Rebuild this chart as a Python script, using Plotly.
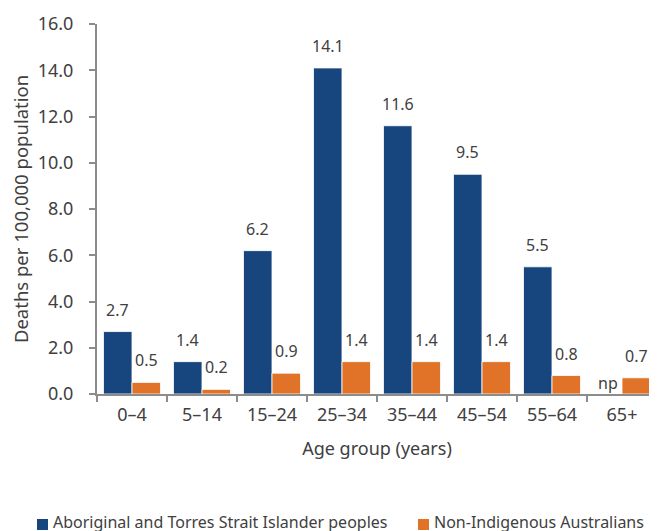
import plotly.graph_objects as go

categories = ["0–4", "5–14", "15–24", "25–34", "35–44", "45–54", "55–64", "65+"]
indigenous = [2.7, 1.4, 6.2, 14.1, 11.6, 9.5, 5.5, None]
indigenous_labels = ["2.7", "1.4", "6.2", "14.1", "11.6", "9.5", "5.5", "np"]
non_indigenous = [0.5, 0.2, 0.9, 1.4, 1.4, 1.4, 0.8, 0.7]
non_indigenous_labels = ["0.5", "0.2", "0.9", "1.4", "1.4", "1.4", "0.8", "0.7"]
y_ticks = [0, 2, 4, 6, 8, 10, 12, 14, 16]
series_names = ["Aboriginal and Torres Strait Islander peoples", "Non-Indigenous Australians"]

BLUE = "#17467F"
ORANGE = "#E07328"
TEXT = "#404040"
AXIS = "#8C8C8C"
FONT = "Noto Sans"
BARGAP = 0.186

# page layout (browser body has an 8px margin)
PAGE_OFF = 8
PLOT_L, PLOT_R, PLOT_T, PLOT_B = 97, 657, 24, 394  # plot area in page pixels
W, H = 657, 531


def px_x(x):
    return (x - PLOT_L) / (PLOT_R - PLOT_L)


def px_y(y):
    return (PLOT_B - y) / (PLOT_B - PLOT_T)


fig = go.Figure()
fig.add_trace(go.Bar(name=series_names[0], x=categories, y=indigenous,
                     marker=dict(color=BLUE, line=dict(width=0.8, color="white"))))
fig.add_trace(go.Bar(name=series_names[1], x=categories, y=non_indigenous,
                     marker=dict(color=ORANGE, line=dict(width=0.8, color="white"))))

off = (1 - BARGAP) / 4
annotations = []
for i, (v, t) in enumerate(zip(indigenous, indigenous_labels)):
    annotations.append(dict(x=i - off, y=v if v is not None else 0, text=t, xref="x", yref="y",
                            showarrow=False, yshift=22 if v is not None else 11,
                            font=dict(size=16, color=TEXT, family=FONT)))
for i, (v, t) in enumerate(zip(non_indigenous, non_indigenous_labels)):
    annotations.append(dict(x=i + off, y=v, text=t, xref="x", yref="y",
                            showarrow=False, yshift=22,
                            font=dict(size=16, color=TEXT, family=FONT)))

# custom legend (marker squares + labels)
legend_items = [(series_names[0], BLUE, 37), (series_names[1], ORANGE, 418)]
shapes = []
for name, color, x0 in legend_items:
    shapes.append(dict(type="rect", xref="paper", yref="paper",
                       x0=px_x(x0), x1=px_x(x0 + 11), y0=px_y(530), y1=px_y(519),
                       fillcolor=color, line=dict(width=0)))
    annotations.append(dict(x=px_x(x0 + 14), y=px_y(522), xref="paper", yref="paper",
                            xanchor="left", yanchor="middle", showarrow=False, text=name,
                            font=dict(size=16, color=TEXT, family=FONT)))

fig.update_layout(
    width=W, height=H,
    margin=dict(l=PLOT_L - PAGE_OFF, r=W - (PLOT_R - PAGE_OFF), t=PLOT_T - PAGE_OFF,
                b=H - (PLOT_B - PAGE_OFF), autoexpand=False),
    paper_bgcolor="white", plot_bgcolor="white",
    barmode="group", bargap=BARGAP, bargroupgap=0,
    font=dict(family=FONT, size=16, color=TEXT),
    annotations=annotations, shapes=shapes,
    showlegend=False,
    xaxis=dict(type="category", showline=True, linecolor=AXIS, linewidth=2,
               ticks="outside", ticklen=6, tickcolor=AXIS, tickwidth=2,
               tickson="boundaries", showgrid=False, automargin=False,
               tickfont=dict(size=18, color=TEXT, family=FONT), ticklabelstandoff=3,
               title=dict(text="Age group (years)", font=dict(size=18, color=TEXT, family=FONT),
                          standoff=18)),
    yaxis=dict(range=[0, 16], tickvals=y_ticks, tickformat=".1f", showline=True,
               linecolor=AXIS, linewidth=2, ticks="outside", ticklen=6,
               tickcolor=AXIS, tickwidth=2, showgrid=False, zeroline=False,
               automargin=False,
               tickfont=dict(size=18, color=TEXT, family=FONT), ticklabelstandoff=12,
               title=dict(text="Deaths per 100,000 population",
                          font=dict(size=18.5, color=TEXT, family=FONT), standoff=11)),
)

fig.write_html("out.html")
